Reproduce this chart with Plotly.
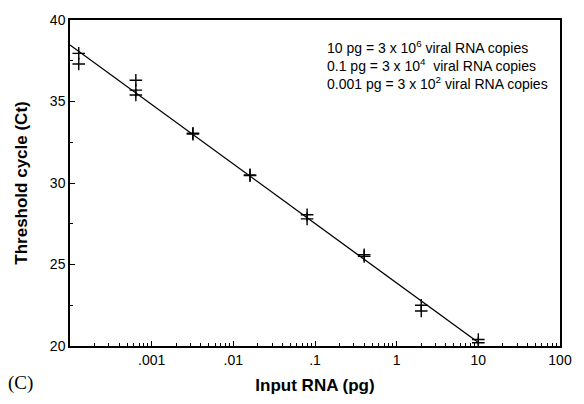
import numpy as np
import plotly.graph_objects as go

# Input RNA (pg), five-fold dilution series, with the Ct readings of each replicate
input_pg = [0.000128, 0.000128,
            0.00064, 0.00064, 0.00064,
            0.0032, 0.0032,
            0.016, 0.016,
            0.08, 0.08,
            0.4, 0.4,
            2, 2,
            10, 10]
ct = [37.95, 37.3,
      36.3, 35.7, 35.4,
      33.05, 33.0,
      30.5, 30.45,
      28.05, 27.8,
      25.6, 25.5,
      22.5, 22.15,
      20.4, 20.2]

x_tickvals = [0.001, 0.01, 0.1, 1, 10, 100]
x_ticktext = ['.001', '.01', '.1', '1', '10', '100']
y_tickvals = [20, 25, 30, 35, 40]

note_lines = ['10 pg = 3 x 10<sup>6</sup> viral RNA copies',
              '0.1 pg = 3 x 10<sup>4</sup>  viral RNA copies',
              '0.001 pg = 3 x 10<sup>2</sup> viral RNA copies']

# regression line of Ct on log10(input)
slope, intercept = np.polyfit(np.log10(input_pg), ct, 1)
line_x = np.array([0.0001, 10])
line_y = slope * np.log10(line_x) + intercept

fig = go.Figure()

fig.add_trace(go.Scatter(
    x=line_x, y=line_y, mode='lines',
    line=dict(color='black', width=1.3),
    showlegend=False, hoverinfo='skip'
))

fig.add_trace(go.Scatter(
    x=input_pg, y=ct, mode='markers',
    marker=dict(symbol='cross-thin', size=9, line=dict(color='black', width=1.4)),
    showlegend=False
))

fig.add_annotation(
    x=0.52, y=0.95, xref='paper', yref='paper',
    xanchor='left', yanchor='top', align='left',
    text='<br>'.join(note_lines), showarrow=False,
    font=dict(family='Liberation Sans, Arial', size=14, color='black')
)

fig.add_annotation(
    x=-0.13, y=-0.115, xref='paper', yref='paper',
    xanchor='left', yanchor='middle',
    text='(C)', showarrow=False,
    font=dict(family='Liberation Serif, Times New Roman', size=19, color='black')
)

fig.update_xaxes(
    type='log', range=[-4, 2],
    tickvals=x_tickvals, ticktext=x_ticktext,
    ticks='inside', ticklen=5, tickcolor='black',
    minor=dict(ticks='inside', ticklen=3, dtick='D1', tickcolor='black'),
    showline=True, linecolor='black', linewidth=1.5, mirror=True,
    showgrid=False, zeroline=False,
    tickfont=dict(family='Liberation Sans, Arial', size=14, color='black'),
    title=dict(text='<b>Input RNA (pg)</b>', standoff=13,
               font=dict(family='Liberation Sans, Arial', size=17, color='black'))
)

fig.update_yaxes(
    range=[20, 40], tickvals=y_tickvals,
    ticks='inside', ticklen=5, tickcolor='black',
    minor=dict(ticks='inside', ticklen=3, dtick=2.5, tickcolor='black'),
    showline=True, linecolor='black', linewidth=1.5, mirror=True,
    showgrid=False, zeroline=False,
    tickfont=dict(family='Liberation Sans, Arial', size=14, color='black'),
    title=dict(text='<b>Threshold cycle (Ct)</b>', standoff=18,
               font=dict(family='Liberation Sans, Arial', size=17, color='black'))
)

fig.update_layout(
    width=584, height=404,
    margin=dict(l=70, r=16, t=12, b=52),
    plot_bgcolor='white', paper_bgcolor='white'
)

# drop the default 8px page margin so the figure sits at the window's corner
fig.write_html('out.html', config={'displayModeBar': False},
               post_script="document.body.style.margin = '0';")
